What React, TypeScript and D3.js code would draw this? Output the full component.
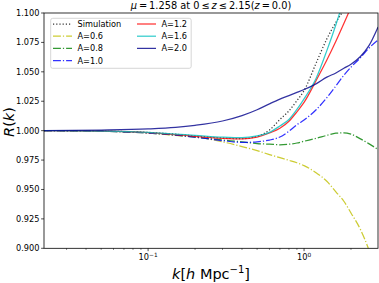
import React from "react";
import * as d3 from "d3";

const kGrid = [0.0215, 0.05, 0.1, 0.15, 0.2, 0.3, 0.4, 0.5, 0.6, 0.7, 0.8, 0.9, 1.0, 1.2, 1.4, 1.6, 1.8, 2.0, 2.3, 2.6, 2.98];

const simulation = [1.0, 0.9996, 0.9985, 0.997, 0.9955, 0.9937, 0.9932, 0.9952, 1.0005, 1.0095, 1.0168, 1.0255, 1.034, 1.058, 1.078, 1.092, 1.103, 1.115, 1.135, 1.155, 1.18];
const a06 = [1.0, 0.9995, 0.998, 0.996, 0.9947, 0.9905, 0.9865, 0.983, 0.9797, 0.977, 0.9748, 0.9727, 0.9703, 0.964, 0.957, 0.948, 0.94, 0.93, 0.916, 0.899, 0.875];
const a08 = [1.0, 0.9995, 0.998, 0.9962, 0.9945, 0.992, 0.9905, 0.989, 0.9885, 0.988, 0.9885, 0.9895, 0.991, 0.9935, 0.996, 0.9978, 0.9982, 0.997, 0.993, 0.989, 0.984];
const a10 = [1.0, 0.9995, 0.998, 0.9963, 0.9945, 0.9915, 0.99, 0.9905, 0.992, 0.9946, 0.9995, 1.005, 1.009, 1.018, 1.028, 1.038, 1.047, 1.054, 1.062, 1.07, 1.077];
const a12 = [1.0, 0.9996, 0.9983, 0.9966, 0.9952, 0.9935, 0.993, 0.9945, 0.998, 1.002, 1.008, 1.016, 1.024, 1.043, 1.06, 1.076, 1.091, 1.105, 1.125, 1.145, 1.165];
const a16 = [1.0, 0.9996, 0.9985, 0.997, 0.996, 0.9945, 0.994, 0.9955, 0.9985, 1.004, 1.0095, 1.018, 1.027, 1.045, 1.068, 1.09, 1.112, 1.135, 1.16, 1.185, 1.21];
const a20 = [1.0, 1.0005, 1.0015, 1.0028, 1.0045, 1.0082, 1.0128, 1.0178, 1.0228, 1.0268, 1.0298, 1.0325, 1.035, 1.04, 1.0455, 1.049, 1.053, 1.0565, 1.063, 1.072, 1.088];

const seriesNames = ["Simulation", "A=0.6", "A=0.8", "A=1.0", "A=1.2", "A=1.6", "A=2.0"];
const seriesValues = [simulation, a06, a08, a10, a12, a16, a20];
const seriesColors = ["#000000", "#bfbf00", "#008000", "#0000ff", "#ff0000", "#00bfbf", "#00008b"];
const seriesDash = ["1.2 2", "7.9 2 1.2 2", "7.9 2 1.2 2", "7.9 2 1.2 2", "", "", ""];

const yTicks = [0.9, 0.925, 0.95, 0.975, 1.0, 1.025, 1.05, 1.075, 1.1];
const xMajor = [0.1, 1];
const xMinor = [0.03, 0.04, 0.05, 0.06, 0.07, 0.08, 0.09, 0.2, 0.3, 0.4, 0.5, 0.6, 0.7, 0.8, 0.9, 2];

const L = 44, R = 378, T = 13, B = 248.3;
const FONT = "DejaVu Sans, sans-serif";
const TS = "\u2009";

export default function App() {
  const x = d3.scaleLog().domain([0.0215, 2.98]).range([L, R]);
  const y = d3.scaleLinear().domain([0.9, 1.1]).range([B, T]);
  const line = d3
    .line<number>()
    .x((_, i) => x(kGrid[i]))
    .y((v) => y(v))
    .curve(d3.curveMonotoneX);

  const legendRows = [
    { i: 0, cx: 53, row: 0 },
    { i: 1, cx: 53, row: 1 },
    { i: 2, cx: 53, row: 2 },
    { i: 3, cx: 53, row: 3 },
    { i: 4, cx: 137, row: 0 },
    { i: 5, cx: 137, row: 1 },
    { i: 6, cx: 137, row: 2 },
  ];

  return (
    <svg
      width={379}
      height={283}
      style={{ position: "absolute", left: 0, top: 0, background: "#fff" }}
      fontFamily={FONT}
    >
      <defs>
        <clipPath id="plotclip">
          <rect x={L} y={T} width={R - L} height={B - T} />
        </clipPath>
      </defs>
      <rect x={0} y={0} width={379} height={283} fill="#fff" />

      <g clipPath="url(#plotclip)">
        {seriesValues.map((vals, i) => (
          <path
            key={seriesNames[i]}
            d={line(vals) || ""}
            fill="none"
            stroke={seriesColors[i]}
            strokeOpacity={0.8}
            strokeWidth={1.25}
            strokeDasharray={seriesDash[i] || undefined}
          />
        ))}
      </g>

      <rect x={L} y={T} width={R - L} height={B - T} fill="none" stroke="#000" strokeWidth={0.8} />

      {yTicks.map((t) => (
        <g key={t}>
          <line x1={L - 2.9} x2={L} y1={y(t)} y2={y(t)} stroke="#000" strokeWidth={0.7} />
          <text x={L - 4.5} y={y(t) + 2.9} fontSize={8.2} textAnchor="end" fill="#000">
            {d3.format(".3f")(t)}
          </text>
        </g>
      ))}

      {xMinor.map((t) => (
        <line key={t} x1={x(t)} x2={x(t)} y1={B} y2={B + 1.6} stroke="#000" strokeWidth={0.5} />
      ))}
      {xMajor.map((t) => (
        <g key={t}>
          <line x1={x(t)} x2={x(t)} y1={B} y2={B + 2.9} stroke="#000" strokeWidth={0.7} />
          <text x={x(t)} y={B + 12} fontSize={8.2} textAnchor="middle" fill="#000">
            <tspan>10</tspan>
            <tspan dy={-3.5} fontSize={5.8}>
              {t === 1 ? "0" : "\u22121"}
            </tspan>
          </text>
        </g>
      ))}

      <rect x={50.7} y={18.3} width={140.5} height={50} rx={2} fill="#fff" fillOpacity={0.8} stroke="#cccccc" strokeWidth={0.8} />
      {legendRows.map(({ i, cx, row }) => {
        const yy = 24 + row * 12.2;
        return (
          <g key={seriesNames[i]}>
            <line
              x1={cx}
              x2={cx + 19}
              y1={yy}
              y2={yy}
              stroke={seriesColors[i]}
              strokeOpacity={0.8}
              strokeWidth={1.25}
              strokeDasharray={seriesDash[i] || undefined}
            />
            <text x={cx + 24.5} y={yy + 2.9} fontSize={8.2} fill="#000">
              {seriesNames[i]}
            </text>
          </g>
        );
      })}

      <text x={(L + R) / 2} y={8.5} fontSize={9.8} textAnchor="middle" fill="#000">
        <tspan fontStyle="italic">μ</tspan>
        <tspan>{`${TS}=${TS}1.258 at 0${TS}≤${TS}`}</tspan>
        <tspan fontStyle="italic">z</tspan>
        <tspan>{`${TS}≤${TS}2.15(`}</tspan>
        <tspan fontStyle="italic">z</tspan>
        <tspan>{`${TS}=${TS}0.0)`}</tspan>
      </text>

      <text x={(L + R) / 2} y={278.5} fontSize={14.5} textAnchor="middle" fill="#000">
        <tspan fontStyle="italic">k</tspan>
        <tspan>[</tspan>
        <tspan fontStyle="italic">h</tspan>
        <tspan> Mpc</tspan>
        <tspan dy={-5.5} fontSize={10}>−1</tspan>
        <tspan dy={5.5}>]</tspan>
      </text>

      <text transform="translate(13.5,122) rotate(-90)" fontSize={14.5} textAnchor="middle" fill="#000">
        <tspan fontStyle="italic">R</tspan>
        <tspan>(</tspan>
        <tspan fontStyle="italic">k</tspan>
        <tspan>)</tspan>
      </text>
    </svg>
  );
}
